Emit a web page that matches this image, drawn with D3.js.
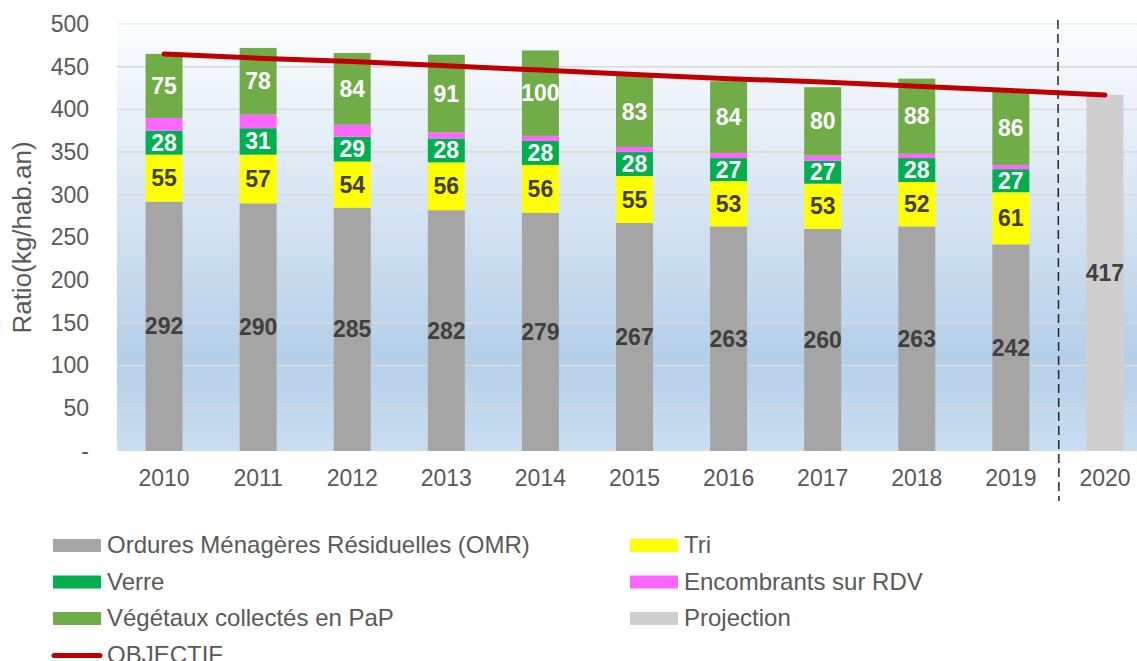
<!DOCTYPE html>
<html>
<head>
<meta charset="utf-8">
<script src="https://cdn.jsdelivr.net/npm/d3@7"></script>
<style>
	body { margin: 0; background: #fff; }
	svg { display: block; font-family: "Liberation Sans", Arial, sans-serif; }
</style>
</head>
<body>
<svg id="chart" width="1137" height="661"></svg>
<script>
(function() {

	var years = ['2010', '2011', '2012', '2013', '2014', '2015', '2016', '2017', '2018', '2019', '2020'];
	var histYears = years.slice(0, 10);
	var omr = [292, 290, 285, 282, 279, 267, 263, 260, 263, 242];
	var tri = [55, 57, 54, 56, 56, 55, 53, 53, 52, 61];
	var verre = [28, 31, 29, 28, 28, 28, 27, 27, 28, 27];
	var encombrants = [15, 16, 14, 7, 6, 6, 6, 6, 5, 5];
	var vegetaux = [75, 78, 84, 91, 100, 83, 84, 80, 88, 86];
	var projection = [417];
	var objectif = [465, 460, 456, 451, 446, 441, 436, 432, 427, 422, 417];
	var yTicks = [0, 50, 100, 150, 200, 250, 300, 350, 400, 450, 500];

	var series = [
		{name: 'Ordures Ménagères Résiduelles (OMR)', values: omr, color: '#a5a5a5', label: '#404040'},
		{name: 'Tri', values: tri, color: '#ffff00', label: '#404040'},
		{name: 'Verre', values: verre, color: '#00b050', label: '#ffffff'},
		{name: 'Encombrants sur RDV', values: encombrants, color: '#ff66ff', label: null},
		{name: 'Végétaux collectés en PaP', values: vegetaux, color: '#70ad47', label: '#ffffff'}
	];

	var svg = d3.select('#chart');
	var PLOT_LEFT = 117, PLOT_RIGHT = 1152, PLOT_TOP = 24, PLOT_BOTTOM = 451;

	var x = d3.scaleBand().domain(years).range([PLOT_LEFT, PLOT_RIGHT]).paddingInner(0.607).paddingOuter(0.3035);
	var y = d3.scaleLinear().domain([0, 500]).range([PLOT_BOTTOM, PLOT_TOP]);

	// plot background gradient
	var grad = svg.append('defs').append('linearGradient')
		.attr('id', 'bg').attr('x1', 0).attr('y1', 0).attr('x2', 0).attr('y2', 1);
	[[0, '#fcfdfe'], [0.4, '#d9e6f3'], [0.78, '#b4cfe9'], [1, '#cadef0']].forEach(function(s) {
		grad.append('stop').attr('offset', s[0]).attr('stop-color', s[1]);
	});
	svg.append('rect')
		.attr('x', PLOT_LEFT).attr('y', PLOT_TOP - 1)
		.attr('width', PLOT_RIGHT - PLOT_LEFT).attr('height', PLOT_BOTTOM - PLOT_TOP + 1)
		.attr('fill', 'url(#bg)');

	// gridlines
	svg.append('g').selectAll('line').data(yTicks.filter(function(d) { return d > 0; }))
		.join('line')
		.attr('x1', PLOT_LEFT).attr('x2', PLOT_RIGHT)
		.attr('y1', function(d) { return y(d); }).attr('y2', function(d) { return y(d); })
		.attr('stroke', function(d) { return d == 500 ? '#eeeeee' : '#d9d9d9'; })
		.attr('stroke-width', 1.5);

	// y axis
	var yAxis = svg.append('g').attr('transform', 'translate(' + PLOT_LEFT + ',0)')
		.call(d3.axisLeft(y).tickValues(yTicks).tickSize(0).tickPadding(28)
			.tickFormat(function(d) { return d == 0 ? '-' : d; }));
	yAxis.select('.domain').remove();
	yAxis.selectAll('text').attr('font-size', 23).attr('fill', '#595959')
		.attr('font-family', '"Liberation Sans", Arial, sans-serif');

	svg.append('text')
		.attr('transform', 'translate(31,' + ((PLOT_TOP + PLOT_BOTTOM) / 2) + ') rotate(-90)')
		.attr('text-anchor', 'middle')
		.attr('font-size', 26).attr('fill', '#595959')
		.text('Ratio(kg/hab.an)');

	// x axis
	var xAxis = svg.append('g').attr('transform', 'translate(0,' + PLOT_BOTTOM + ')')
		.call(d3.axisBottom(x).tickSize(0).tickPadding(19));
	xAxis.select('.domain').remove();
	xAxis.selectAll('text').attr('font-size', 23).attr('fill', '#595959')
		.attr('font-family', '"Liberation Sans", Arial, sans-serif');

	// stacked bars
	var rows = histYears.map(function(yr, i) {
		var row = {year: yr};
		series.forEach(function(s) { row[s.name] = s.values[i]; });
		return row;
	});
	var stack = d3.stack().keys(series.map(function(s) { return s.name; }))(rows);

	var bars = svg.append('g');
	stack.forEach(function(layer, k) {
		var s = series[k];
		var g = bars.append('g');
		g.selectAll('rect').data(layer).join('rect')
			.attr('x', function(d) { return x(d.data.year); })
			.attr('width', x.bandwidth())
			.attr('y', function(d) { return y(d[1]); })
			.attr('height', function(d) { return y(d[0]) - y(d[1]); })
			.attr('fill', s.color);
		if (s.label) {
			g.selectAll('text').data(layer).join('text')
				.attr('x', function(d) { return x(d.data.year) + x.bandwidth() / 2; })
				.attr('y', function(d) { return y((d[0] + d[1]) / 2); })
				.attr('dy', '0.35em')
				.attr('text-anchor', 'middle')
				.attr('font-size', 23).attr('font-weight', 'bold')
				.attr('fill', s.label)
				.text(function(d) { return d.data[s.name]; });
		}
	});

	// projection bar
	var proj = svg.append('g');
	proj.selectAll('rect').data(projection).join('rect')
		.attr('x', x('2020')).attr('width', x.bandwidth())
		.attr('y', function(d) { return y(d); })
		.attr('height', function(d) { return y(0) - y(d); })
		.attr('fill', '#d0cece');
	proj.selectAll('text').data(projection).join('text')
		.attr('x', x('2020') + x.bandwidth() / 2)
		.attr('y', function(d) { return y(d / 2); })
		.attr('dy', '0.35em').attr('text-anchor', 'middle')
		.attr('font-size', 23).attr('font-weight', 'bold').attr('fill', '#404040')
		.text(function(d) { return d; });

	// dashed separator
	var sepX = (x('2019') + x('2020') + x.bandwidth()) / 2;
	svg.append('line')
		.attr('x1', sepX).attr('x2', sepX + 1)
		.attr('y1', 20).attr('y2', 501)
		.attr('stroke', '#262626').attr('stroke-width', 1.5)
		.attr('stroke-dasharray', '9,5');

	// objectif line
	var line = d3.line()
		.x(function(d, i) { return x(years[i]) + x.bandwidth() / 2; })
		.y(function(d) { return y(d); });
	svg.append('path').datum(objectif)
		.attr('d', line)
		.attr('fill', 'none').attr('stroke', '#c00000')
		.attr('stroke-width', 5).attr('stroke-linecap', 'round');

	// legend
	var legendItems = [
		{name: series[0].name, color: series[0].color, col: 0, row: 0},
		{name: series[1].name, color: series[1].color, col: 1, row: 0},
		{name: series[2].name, color: series[2].color, col: 0, row: 1},
		{name: series[3].name, color: series[3].color, col: 1, row: 1},
		{name: series[4].name, color: series[4].color, col: 0, row: 2},
		{name: 'Projection', color: '#d0cece', col: 1, row: 2},
		{name: 'OBJECTIF', color: '#c00000', col: 0, row: 3, line: true}
	];
	var colX = [53, 630];
	var legend = svg.append('g');
	legendItems.forEach(function(it) {
		var lx = colX[it.col], ly = 545 + it.row * 36.5;
		if (it.line) {
			legend.append('line').attr('x1', lx + 1).attr('x2', lx + 47)
				.attr('y1', ly + 1).attr('y2', ly + 1)
				.attr('stroke', it.color).attr('stroke-width', 5).attr('stroke-linecap', 'round');
		} else {
			legend.append('rect').attr('x', lx).attr('y', ly - 6)
				.attr('width', 48).attr('height', 13).attr('fill', it.color);
		}
		legend.append('text').attr('x', lx + 54).attr('y', ly).attr('dy', '0.35em')
			.attr('font-size', 24).attr('fill', '#595959').text(it.name);
	});
}());
</script>
</body>
</html>
